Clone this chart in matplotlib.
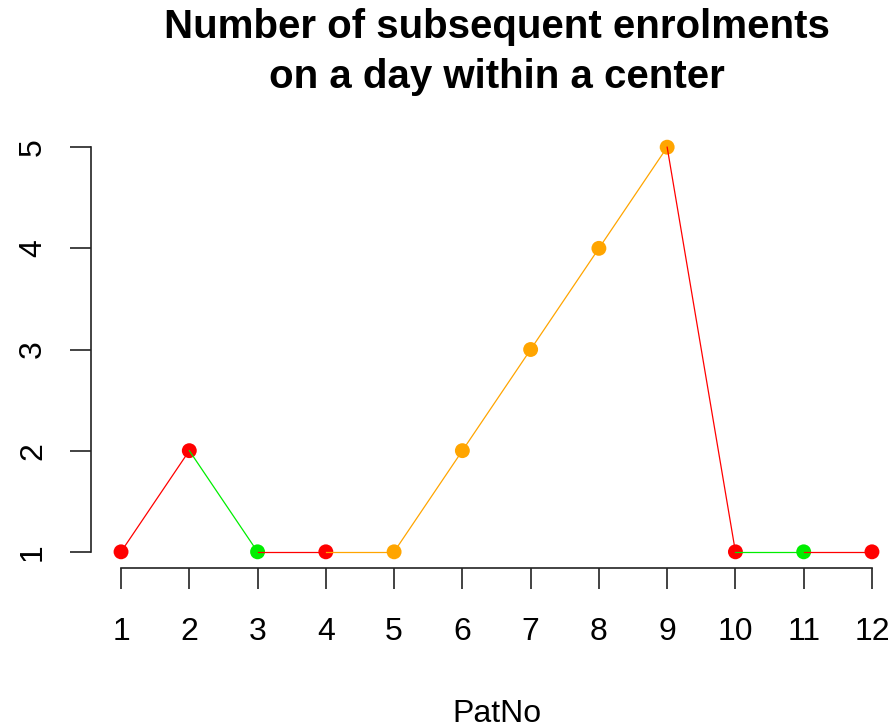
import matplotlib
matplotlib.use("Agg")
import matplotlib.pyplot as plt

pat_no = [1, 2, 3, 4, 5, 6, 7, 8, 9, 10, 11, 12]
n_enrol = [1, 2, 1, 1, 1, 2, 3, 4, 5, 1, 1, 1]
point_cols = ["red", "red", "#00ee00", "red", "orange", "orange", "orange",
              "orange", "orange", "red", "#00ee00", "red"]

plt.rcParams["font.family"] = ["Liberation Sans", "DejaVu Sans"]

W, H = 894, 728
fig = plt.figure(figsize=(W / 100, H / 100), dpi=100)
ax = fig.add_axes([91 / W, (H - 568) / H, (902 - 91) / W, (568 - 131) / H])

ax.scatter(pat_no, n_enrol, c=point_cols, s=115, zorder=2, linewidths=0)
# each segment takes the colour of its end point
for i in range(len(pat_no) - 1):
    ax.plot(pat_no[i:i + 2], n_enrol[i:i + 2], color=point_cols[i + 1],
            lw=0.9, zorder=3)

ax.set_xlim(1 - 0.44, 12 + 0.44)
ax.set_ylim(1 - 0.16, 5 + 0.16)
ax.set_xticks(pat_no)
ax.set_yticks([1, 2, 3, 4, 5])

for s in ["top", "right"]:
    ax.spines[s].set_visible(False)
ax.spines["left"].set_bounds(1, 5)
ax.spines["bottom"].set_bounds(1, 12)
for s in ["left", "bottom"]:
    ax.spines[s].set_linewidth(1.2)
    ax.spines[s].set_color("#222222")

ax.tick_params(length=15, width=1.2, color="#222222", labelsize=23)
ax.tick_params(axis="x", pad=20)
ax.tick_params(axis="y", pad=16)
for t in ax.get_yticklabels():
    t.set_rotation(90)
    t.set_va("center")

ax.set_xlabel("PatNo", fontsize=23, labelpad=38)
ax.set_title("Number of subsequent enrolments\non a day within a center",
             fontsize=29, fontweight="bold", pad=31, linespacing=1.4)

fig.savefig("out.png", dpi=100)
